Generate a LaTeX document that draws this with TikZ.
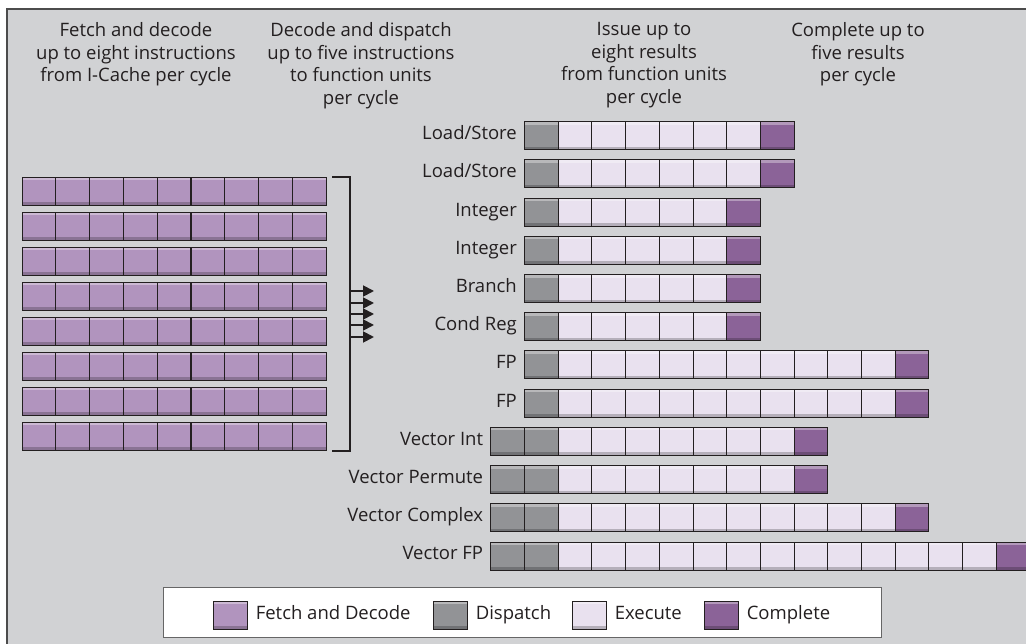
\documentclass[tikz,border=0pt]{standalone}
\usepackage{fontspec}
\setmainfont{Open Sans}
\usetikzlibrary{arrows.meta, positioning}
\definecolor{myPanel}{RGB}{209, 210, 212}
\definecolor{myInk}{RGB}{35, 31, 32}
\definecolor{myFetch}{RGB}{177, 148, 190}
\definecolor{myDispatch}{RGB}{146, 147, 150}
\definecolor{myExecute}{RGB}{233, 225, 239}
\definecolor{myComplete}{RGB}{139, 99, 152}
\tikzstyle{cell}= [draw=myInk, line width=0.9pt, minimum width=33.7pt, minimum height=28pt,
  inner sep=0pt, anchor=north west,
  path picture={
    \fill[white, opacity=0.35] (path picture bounding box.north west) rectangle ([yshift=-3pt]path picture bounding box.north east);
    \fill[black, opacity=0.22] ([yshift=3pt]path picture bounding box.south west) rectangle (path picture bounding box.south east);
  }]
\tikzstyle{headtext}= [align=center, anchor=north, inner sep=0pt, text=myInk]
\tikzstyle{unitlabel}= [inner sep=0pt, text=myInk, text height=1.6ex, text depth=0.1ex, node distance=7pt]
\tikzstyle{keytext}= [inner sep=0pt, text=myInk, text height=1.6ex, text depth=0.1ex, node distance=8pt]

\begin{document}
\begin{tikzpicture}[x=1pt, y=-1pt, >={Triangle[length=11pt, width=11pt]},
  font=\fontsize{18.5}{22.5}\selectfont]
    \clip (0,0) rectangle (1026,644);
    % panel
    \fill[myPanel] (7,9) rectangle (1030,650);
    \draw[line width=1.3pt, black!70] (1030,9) -- (7,9) -- (7,650);

    % column headings
    \node [headtext] (hfetch) at (136,22.5)
    {Fetch and decode \\ up to eight instructions \\ from I-Cache per cycle};
    \node [headtext] (hdispatch) at (361,22.5)
    {Decode and dispatch \\ up to five instructions \\ to function units \\ per cycle};
    \node [headtext] (hissue) at (644,22.5)
    {Issue up to \\ eight results \\ from function units \\ per cycle};
    \node [headtext] (hcomplete) at (858,22.5)
    {Complete up to \\ five results \\ per cycle};

    % fetch buffer
    \foreach \r in {1,...,8}
      \foreach \c in {1,...,9}
        \node [cell, fill=myFetch] (f\r-\c) at ({21.5+(\c-1)*33.8}, {177+(\r-1)*35}) {};

    % dispatch bracket
    \draw[line width=1.8pt, myInk] ([xshift=5.5pt]f1-9.north east) -- ++(18,0)
    |- ([xshift=5.5pt]f8-9.south east);
    \foreach \y [count=\j] in {291,303,314,325,337} {
      \coordinate (d\j) at (349,\y);
      \coordinate (e\j) at (374,\y);
      \draw[->, line width=1.8pt, myInk] (d\j) -- (e\j);
    }

    % function units
    \foreach \name/\nd/\ne [count=\i] in {{Load/Store}/1/6, {Load/Store}/1/6,
        Integer/1/5, Integer/1/5, Branch/1/5, Cond Reg/1/5, FP/1/10, FP/1/10,
        Vector Int/2/7, Vector Permute/2/7, Vector Complex/2/10, Vector FP/2/13} {
      \pgfmathsetmacro{\xs}{524-(\nd-1)*33.7}
      \pgfmathsetmacro{\ys}{121.3+(\i-1)*38.2}
      \pgfmathtruncatemacro{\na}{\nd+1}
      \pgfmathtruncatemacro{\nb}{\nd+\ne}
      \pgfmathtruncatemacro{\nc}{\nd+\ne+1}
      \foreach \k in {1,...,\nd}
        \node [cell, fill=myDispatch] (u\i-\k) at ({\xs+(\k-1)*33.7}, \ys) {};
      \foreach \k in {\na,...,\nb}
        \node [cell, fill=myExecute] (u\i-\k) at ({\xs+(\k-1)*33.7}, \ys) {};
      \node [cell, fill=myComplete] (u\i-\nc) at ({\xs+(\nc-1)*33.7}, \ys) {};
      \node [unitlabel, left=of u\i-1] (l\i) {\name};
    }

    % legend
    \node [draw=black!60, line width=1pt, fill=white, anchor=north west,
      minimum width=718pt, minimum height=50pt] (legend) at (163,587) {};
    \node [cell, fill=myFetch] (kfetch) at (213,601) {};
    \node [keytext, right=of kfetch] {Fetch and Decode};
    \node [cell, fill=myDispatch] (kdispatch) at (433,601) {};
    \node [keytext, right=of kdispatch] {Dispatch};
    \node [cell, fill=myExecute] (kexecute) at (572,601) {};
    \node [keytext, right=of kexecute] {Execute};
    \node [cell, fill=myComplete] (kcomplete) at (704,601) {};
    \node [keytext, right=of kcomplete] {Complete};

\end{tikzpicture}
\end{document}
